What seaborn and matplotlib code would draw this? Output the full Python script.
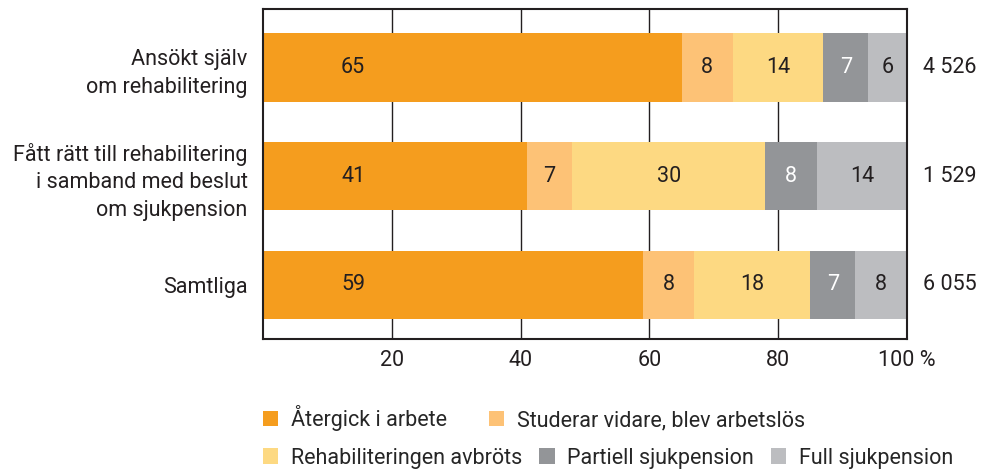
import numpy as np
import pandas as pd
import matplotlib
matplotlib.use("Agg")
import matplotlib.pyplot as plt
from matplotlib.patches import Patch
from matplotlib.transforms import blended_transform_factory
import seaborn as sns

groups = ["Ansökt själv\nom rehabilitering",
          "Fått rätt till rehabilitering\ni samband med beslut\nom sjukpension",
          "Samtliga"]
series = ["Återgick i arbete", "Studerar vidare, blev arbetslös",
          "Rehabiliteringen avbröts", "Partiell sjukpension", "Full sjukpension"]
aterg = [65, 41, 59]
studerar = [8, 7, 8]
avbrots = [14, 30, 18]
partiell = [7, 8, 7]
full = [6, 14, 8]
totals = ["4 526", "1 529", "6 055"]
xticks = [20, 40, 60, 80, 100]
xticklabels = ["20", "40", "60", "80", "100 %"]

colors = ["#F59D1E", "#FDC276", "#FDD982", "#939598", "#BCBDC0"]
text_colors = ["#231F20", "#231F20", "#231F20", "white", "#231F20"]
first_label_x = 14  # first segment's labels sit at a fixed spot in the reference

sns.set_style("white")
plt.rcParams["font.family"] = ["Roboto", "DejaVu Sans"]
plt.rcParams["font.size"] = 15.5

df = pd.DataFrame({"grupp": groups, series[0]: aterg, series[1]: studerar,
                   series[2]: avbrots, series[3]: partiell, series[4]: full})
vals = df[series].to_numpy()
cums = vals.cumsum(axis=1)

fig = plt.figure(figsize=(9.86, 4.73), dpi=100)
ax = fig.add_axes([263 / 986, 1 - 339 / 473, 644 / 986, 330 / 473])

for x in xticks[:-1]:
    ax.axvline(x, color="#231F20", lw=1.0, zorder=0)

# stacked bars: draw cumulative totals from the widest down
for k in range(len(series) - 1, -1, -1):
    plot_df = pd.DataFrame({"grupp": groups, "cum": cums[:, k]})
    sns.barplot(data=plot_df, x="cum", y="grupp", orient="h", color=colors[k],
                width=0.63, saturation=1, ax=ax, zorder=2, linewidth=0)

for i in range(len(groups)):
    for k in range(len(series)):
        xpos = first_label_x if k == 0 else cums[i, k] - vals[i, k] / 2
        ax.text(xpos, i, str(vals[i, k]), ha="center", va="center",
                color=text_colors[k], zorder=3)

trans = blended_transform_factory(ax.transAxes, ax.transData)
for i, t in enumerate(totals):
    ax.text(1.067, i, t, transform=trans, ha="center", va="center", color="#231F20")

ax.set_xlim(0, 100)
ax.set_ylim(2.5, -0.54)
ax.set_xticks(xticks)
ax.set_xticklabels(xticklabels)
ax.tick_params(axis="x", length=0, pad=8, colors="#231F20")
ax.tick_params(axis="y", length=0, pad=11, colors="#231F20")
for lab in ax.get_yticklabels():
    lab.set_linespacing(1.4)
ax.set_xlabel("")
ax.set_ylabel("")
for s in ax.spines.values():
    s.set_visible(True)
    s.set_color("#231F20")
    s.set_linewidth(1.5)

handles = [Patch(facecolor=c, edgecolor="none") for c in colors]
leg_kw = dict(frameon=False, loc="center left", borderpad=0, borderaxespad=0,
              handlelength=0.7, handleheight=0.7, handletextpad=0.6)
fig.legend(handles[:2], series[:2], ncol=2, bbox_to_anchor=(263 / 986, 1 - 418 / 473),
           columnspacing=1.95, **leg_kw)
fig.legend(handles[2:], series[2:], ncol=3, bbox_to_anchor=(263 / 986, 1 - 458 / 473),
           columnspacing=0.8, **leg_kw)

fig.savefig("out.png", dpi=100)
